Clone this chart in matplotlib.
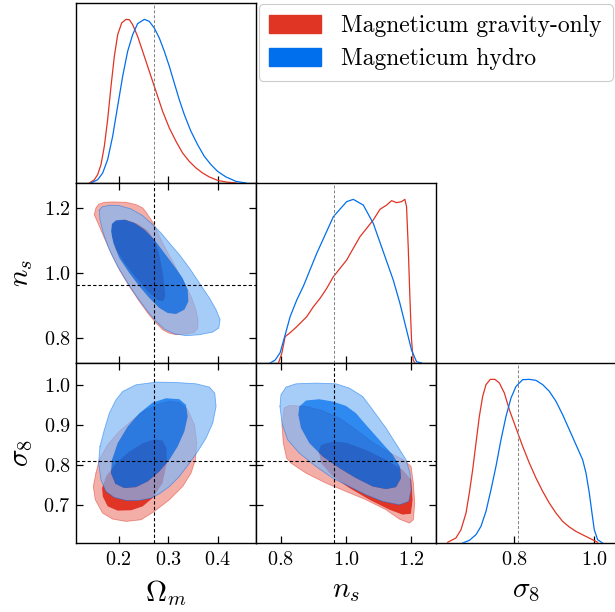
import numpy as np
import matplotlib
matplotlib.use('Agg')
import matplotlib.pyplot as plt
from matplotlib.path import Path
from matplotlib.patches import PathPatch, Patch

plt.rcParams['font.family'] = 'cmr10'
plt.rcParams['mathtext.fontset'] = 'cm'
plt.rcParams['axes.formatter.use_mathtext'] = True

# ---------------------------------------------------------------------------
# data
# ---------------------------------------------------------------------------
names = ['Magneticum gravity-only', 'Magneticum hydro']
labels = [r'$\Omega_m$', r'$n_s$', r'$\sigma_8$']
fiducial = [0.272, 0.963, 0.809]
ranges = [(0.114, 0.477), (0.724, 1.276), (0.604, 1.055)]
ticks = [[0.2, 0.3, 0.4], [0.8, 1.0, 1.2], [0.7, 0.8, 0.9, 1.0]]
xticks_last = [0.8, 1.0]

# 1D marginals (normalised to peak = 1)
om_x_red = [0.1409, 0.1510, 0.1577, 0.1644, 0.1711, 0.1778, 0.1846, 0.1913, 0.1980, 0.2061, 0.2148,
            0.2215, 0.2282, 0.2383, 0.2484, 0.2585, 0.2686, 0.2786, 0.2887, 0.3022, 0.3156, 0.3290,
            0.3425, 0.3559, 0.3694, 0.3828, 0.3996, 0.4164, 0.4366]
om_y_red = [0, 0.020, 0.051, 0.112, 0.224, 0.387, 0.591, 0.774, 0.906, 0.978, 1.0,
            0.998, 0.968, 0.896, 0.805, 0.713, 0.621, 0.530, 0.438, 0.336, 0.255, 0.183,
            0.132, 0.092, 0.061, 0.037, 0.016, 0.006, 0]
om_x_blue = [0.1442, 0.1577, 0.1678, 0.1778, 0.1879, 0.1980, 0.2081, 0.2182, 0.2282, 0.2383, 0.2518,
             0.2618, 0.2719, 0.2820, 0.2921, 0.3022, 0.3122, 0.3223, 0.3324, 0.3458, 0.3593, 0.3727,
             0.3862, 0.3996, 0.4164, 0.4366, 0.4567]
om_y_blue = [0, 0.020, 0.061, 0.143, 0.285, 0.469, 0.652, 0.805, 0.906, 0.974, 1.0,
             0.988, 0.947, 0.886, 0.805, 0.713, 0.611, 0.509, 0.418, 0.316, 0.234, 0.163,
             0.112, 0.071, 0.037, 0.010, 0]

ns_x_red = [0.7929, 0.8031, 0.8133, 0.8286, 0.8490, 0.8796, 0.9000, 0.9204, 0.9408, 0.9612, 0.9816,
            1.0020, 1.0224, 1.0429, 1.0633, 1.0837, 1.1041, 1.1245, 1.1398, 1.1551, 1.1704, 1.1806,
            1.1857, 1.1908, 1.1959, 1.2010, 1.2061, 1.2112]
ns_y_red = [0, 0.059, 0.161, 0.185, 0.222, 0.283, 0.344, 0.395, 0.456, 0.527, 0.578,
            0.629, 0.701, 0.772, 0.823, 0.874, 0.939, 0.965, 0.992, 0.980, 0.986, 1.0,
            0.955, 0.711, 0.405, 0.141, 0.018, 0]
ns_x_blue = [0.7673, 0.7827, 0.7980, 0.8133, 0.8286, 0.8490, 0.8694, 0.9102, 0.9612, 1.0020, 1.0224,
             1.0531, 1.0837, 1.1143, 1.1449, 1.1653, 1.1857, 1.2010, 1.2163, 1.2316]
ns_y_blue = [0, 0.018, 0.063, 0.171, 0.283, 0.385, 0.47, 0.67, 0.894, 0.986, 1.0,
             0.965, 0.853, 0.68, 0.507, 0.365, 0.202, 0.079, 0.008, 0]

s8_x_red = [0.6332, 0.6541, 0.6666, 0.6792, 0.6875, 0.6959, 0.7042, 0.7126, 0.7209, 0.7293, 0.7401,
            0.7518, 0.7627, 0.7752, 0.7877, 0.8044, 0.8211, 0.8378, 0.8545, 0.8712, 0.8879, 0.9046,
            0.9213, 0.9380, 0.9547, 0.9756, 0.9965, 1.0090]
s8_y_red = [0.004, 0.031, 0.081, 0.183, 0.306, 0.448, 0.611, 0.774, 0.896, 0.968, 1.0,
            1.0, 0.978, 0.917, 0.815, 0.703, 0.591, 0.489, 0.397, 0.316, 0.244, 0.183,
            0.132, 0.098, 0.071, 0.045, 0.020, 0.004]
s8_x_blue = [0.6708, 0.6875, 0.7042, 0.7167, 0.7293, 0.7418, 0.7543, 0.7668, 0.7794, 0.7919, 0.8044,
             0.8211, 0.8378, 0.8545, 0.8712, 0.8879, 0.9046, 0.9213, 0.9380, 0.9547, 0.9714, 0.9798,
             0.9881, 0.9948, 1.0006, 1.0090, 1.0215]
s8_y_blue = [0, 0.016, 0.051, 0.102, 0.194, 0.326, 0.469, 0.631, 0.774, 0.886, 0.957,
             0.998, 1.0, 0.994, 0.968, 0.927, 0.866, 0.784, 0.693, 0.601, 0.509, 0.428,
             0.306, 0.183, 0.081, 0.020, 0]

# 2D contours (68% inner, 95% outer) : Omega_m vs n_s
om_ns_red_95 = ([0.1509, 0.1542, 0.1596, 0.1711, 0.1879, 0.2148, 0.2350, 0.2485, 0.2565, 0.2653, 0.2734,
                 0.2821, 0.2956, 0.3090, 0.3225, 0.3359, 0.3460, 0.3548, 0.3602, 0.3595, 0.3528, 0.3359,
                 0.3158, 0.3010, 0.2888, 0.2754, 0.2586, 0.2417, 0.2215, 0.2013, 0.1845, 0.1711, 0.1596,
                 0.1522],
                [1.1790, 1.1995, 1.2107, 1.2169, 1.2179, 1.2169, 1.2097, 1.1995, 1.1841, 1.1637, 1.1432,
                 1.1125, 1.0716, 1.0358, 0.9949, 0.9591, 0.9284, 0.8926, 0.8568, 0.8312, 0.8179, 0.8128,
                 0.8107, 0.8159, 0.8261, 0.8466, 0.8772, 0.9130, 0.9591, 1.0102, 1.0614, 1.1074, 1.1483,
                 1.1739])
om_ns_red_68 = ([0.1865, 0.1865, 0.1946, 0.2148, 0.2384, 0.2586, 0.2740, 0.2821, 0.2875, 0.2922, 0.2942,
                 0.2902, 0.2787, 0.2586, 0.2350, 0.2114, 0.1946],
                [1.1125, 1.1483, 1.1606, 1.1637, 1.1514, 1.1309, 1.0972, 1.0563, 1.0153, 0.9693, 0.9284,
                 0.9130, 0.9161, 0.9437, 0.9847, 1.0307, 1.0716])
om_ns_blue_95 = ([0.1610, 0.1664, 0.1812, 0.2013, 0.2249, 0.2485, 0.2686, 0.2855, 0.3023, 0.3225, 0.3427,
                  0.3629, 0.3831, 0.3965, 0.4046, 0.4019, 0.3898, 0.3629, 0.3359, 0.3124, 0.2922, 0.2754,
                  0.2586, 0.2384, 0.2182, 0.1980, 0.1812, 0.1690, 0.1623],
                 [1.1923, 1.2026, 1.2077, 1.2066, 1.1964, 1.1760, 1.1483, 1.1228, 1.0921, 1.0563, 1.0153,
                  0.9693, 0.9233, 0.8875, 0.8568, 0.8312, 0.8189, 0.8107, 0.8077, 0.8138, 0.8281, 0.8517,
                  0.8824, 0.9233, 0.9693, 1.0205, 1.0716, 1.1228, 1.1637])
om_ns_blue_68 = ([0.1845, 0.1865, 0.1946, 0.2114, 0.2316, 0.2518, 0.2720, 0.2922, 0.3124, 0.3292, 0.3393,
                  0.3407, 0.3326, 0.3158, 0.2989, 0.2821, 0.2619, 0.2417, 0.2215, 0.2013, 0.1892],
                 [1.1279, 1.1514, 1.1616, 1.1637, 1.1535, 1.1330, 1.1023, 1.0614, 1.0205, 0.9847, 0.9488,
                  0.9130, 0.8875, 0.8742, 0.8772, 0.8926, 0.9233, 0.9591, 1.0, 1.0460, 1.0921])

# Omega_m vs sigma_8
om_s8_red_95 = ([0.1542, 0.1489, 0.1529, 0.1677, 0.1879, 0.2148, 0.2451, 0.2720, 0.3023, 0.3292, 0.3460,
                 0.3548, 0.3575, 0.3528, 0.3393, 0.3225, 0.3023, 0.2821, 0.2552, 0.2283, 0.2013, 0.1778,
                 0.1610],
                [0.7791, 0.7457, 0.7123, 0.6789, 0.6639, 0.6581, 0.6622, 0.6831, 0.7123, 0.7457, 0.7791,
                 0.8125, 0.8543, 0.9002, 0.9378, 0.9561, 0.9587, 0.9528, 0.9378, 0.9127, 0.8835, 0.8501,
                 0.8125])
om_s8_red_68 = ([0.1664, 0.1677, 0.1778, 0.1980, 0.2249, 0.2485, 0.2686, 0.2888, 0.2976, 0.2969, 0.2888,
                 0.2720, 0.2485, 0.2215, 0.1946, 0.1744],
                [0.7416, 0.7207, 0.6956, 0.6848, 0.6856, 0.6956, 0.7165, 0.7541, 0.8042, 0.8418, 0.8610,
                 0.8643, 0.8543, 0.8334, 0.8042, 0.7708])
om_s8_blue_95 = ([0.1623, 0.1711, 0.1812, 0.1946, 0.2081, 0.2350, 0.2754, 0.3158, 0.3561, 0.3831, 0.3938,
                  0.3965, 0.3898, 0.3763, 0.3595, 0.3427, 0.3225, 0.3023, 0.2821, 0.2653, 0.2417, 0.2148,
                  0.1913, 0.1744, 0.1643, 0.1596],
                 [0.8459, 0.8877, 0.9294, 0.9628, 0.9837, 1.0004, 1.0071, 1.0062, 1.0029, 0.9946, 0.9795,
                  0.9461, 0.9044, 0.8668, 0.8334, 0.8042, 0.7708, 0.7457, 0.7274, 0.7165, 0.7107, 0.7107,
                  0.7182, 0.7332, 0.7624, 0.8042])
om_s8_blue_68 = ([0.2956, 0.3225, 0.3359, 0.3393, 0.3326, 0.3191, 0.3023, 0.2821, 0.2586, 0.2350, 0.2114,
                  0.1933, 0.1845, 0.1865, 0.1980, 0.2182, 0.2417, 0.2686],
                 [0.9670, 0.9645, 0.9503, 0.9211, 0.8835, 0.8459, 0.8125, 0.7833, 0.7583, 0.7441, 0.7416,
                  0.7524, 0.7791, 0.8125, 0.8543, 0.8960, 0.9294, 0.9561])

# n_s vs sigma_8
ns_s8_red_95 = ([0.8107, 0.8036, 0.8077, 0.8179, 0.8312, 0.8772, 0.9386, 1.0, 1.0614, 1.1228, 1.1637,
                 1.1944, 1.2066, 1.2107, 1.2066, 1.1995, 1.1790, 1.1330, 1.0818, 1.0307, 0.9795, 0.9284,
                 0.8772, 0.8261],
                [0.9420, 0.9002, 0.8543, 0.8167, 0.8042, 0.7791, 0.7541, 0.7332, 0.7123, 0.6873, 0.6639,
                 0.6539, 0.6622, 0.7040, 0.7541, 0.7958, 0.8109, 0.8309, 0.8559, 0.8877, 0.9169, 0.9353,
                 0.9461, 0.9486])
ns_s8_red_68 = ([0.9161, 0.9233, 0.9591, 1.0, 1.0614, 1.1228, 1.1739, 1.2005, 1.2046, 1.1995, 1.1739,
                 1.1330, 1.0716, 1.0102, 0.9591, 0.9233],
                [0.8334, 0.8501, 0.8585, 0.8559, 0.8376, 0.8125, 0.7875, 0.7624, 0.7123, 0.6773, 0.6748,
                 0.6873, 0.7123, 0.7416, 0.7708, 0.8042])
ns_s8_blue_95 = ([0.7974, 0.8005, 0.8159, 0.8466, 0.9079, 0.9693, 1.0102, 1.0512, 1.0818, 1.1228, 1.1586,
                  1.1841, 1.1964, 1.1995, 1.1923, 1.1637, 1.1125, 1.0614, 1.0102, 0.9591, 0.9079, 0.8568,
                  0.8210, 0.8036],
                 [0.9461, 0.9754, 0.9946, 1.0029, 1.0046, 1.0029, 0.9921, 0.9712, 0.9378, 0.8919, 0.8459,
                  0.8125, 0.7791, 0.7374, 0.7082, 0.6998, 0.7082, 0.7249, 0.7457, 0.7666, 0.7958, 0.8292,
                  0.8626, 0.9044])
ns_s8_blue_68 = ([0.8537, 0.8568, 0.8772, 0.9182, 0.9591, 1.0, 1.0307, 1.0614, 1.1023, 1.1432, 1.1657,
                  1.1688, 1.1535, 1.1228, 1.0818, 1.0307, 0.9795, 0.9284, 0.8875, 0.8619],
                 [0.9253, 0.9461, 0.9612, 0.9645, 0.9587, 0.9478, 0.9294, 0.9002, 0.8626, 0.8251, 0.7958,
                  0.7666, 0.7441, 0.7390, 0.7457, 0.7666, 0.7917, 0.8209, 0.8543, 0.8919])

colors = ['#E03424', '#006FED']
# (pale factor of outer region, alpha of outer region, alpha of inner region)
fill_style = [(0.6, 1.0, 1.0), (0.5, 0.7, 0.82)]

marg_1d = {0: [(om_x_red, om_y_red), (om_x_blue, om_y_blue)],
           1: [(ns_x_red, ns_y_red), (ns_x_blue, ns_y_blue)],
           2: [(s8_x_red, s8_y_red), (s8_x_blue, s8_y_blue)]}
cont_2d = {(1, 0): [(om_ns_red_95, om_ns_red_68), (om_ns_blue_95, om_ns_blue_68)],
           (2, 0): [(om_s8_red_95, om_s8_red_68), (om_s8_blue_95, om_s8_blue_68)],
           (2, 1): [(ns_s8_red_95, ns_s8_red_68), (ns_s8_blue_95, ns_s8_blue_68)]}


def pale(c, f=0.6):
    rgb = np.array(matplotlib.colors.to_rgb(c))
    return tuple(rgb * (1 - f) + f)


def area(x, y):
    x = np.asarray(x); y = np.asarray(y)
    return 0.5 * np.sum(x * np.roll(y, -1) - np.roll(x, -1) * y)


def poly_path(x, y, hole=None):
    verts = list(zip(x, y)) + [(x[0], y[0])]
    codes = [Path.MOVETO] + [Path.LINETO] * (len(x) - 1) + [Path.CLOSEPOLY]
    if hole is not None:
        hx, hy = list(hole[0]), list(hole[1])
        if np.sign(area(hx, hy)) == np.sign(area(x, y)):
            hx, hy = hx[::-1], hy[::-1]
        verts += list(zip(hx, hy)) + [(hx[0], hy[0])]
        codes += [Path.MOVETO] + [Path.LINETO] * (len(hx) - 1) + [Path.CLOSEPOLY]
    return Path(verts, codes)


def draw_contours(ax, outer, inner, color, style, z):
    f, a_out, a_in = style
    ax.add_patch(PathPatch(poly_path(outer[0], outer[1], hole=inner), fc=pale(color, f), ec='none',
                           alpha=a_out, zorder=z))
    ax.add_patch(PathPatch(poly_path(inner[0], inner[1]), fc=color, ec='none', alpha=a_in, zorder=z))
    ox = list(outer[0]) + [outer[0][0]]
    oy = list(outer[1]) + [outer[1][0]]
    ax.plot(ox, oy, color=color, lw=0.6, alpha=0.5, zorder=z + 0.5)


fig = plt.figure(figsize=(6.15, 6.12), dpi=100)
W, H = 615.0, 612.0
left, top, size = 76.0, 3.0, 180.0

for i in range(3):
    for j in range(i + 1):
        ax = fig.add_axes([(left + j * size) / W, 1 - (top + (i + 1) * size) / H, size / W, size / H])
        ax.set_xlim(ranges[j])
        for sp in ax.spines.values():
            sp.set_linewidth(1.0)
        if i == j:
            for k, (x, y) in enumerate(marg_1d[i]):
                ax.plot(x, y, color=colors[k], lw=0.9, zorder=3)
            ax.axvline(fiducial[i], color='gray', ls='--', lw=0.7, dashes=(3, 2), zorder=4)
            ax.set_ylim(0, 1.1)
            ax.set_yticks([])
            ax.tick_params(axis='x', direction='in', length=5, width=0.9, top=False)
        else:
            ax.set_ylim(ranges[i])
            for k, (outer, inner) in enumerate(cont_2d[(i, j)]):
                draw_contours(ax, outer, inner, colors[k], fill_style[k], 1 + 2 * k)
            ax.axvline(fiducial[j], color='k', ls='--', lw=0.8, dashes=(3, 2), zorder=6)
            ax.axhline(fiducial[i], color='k', ls='--', lw=0.8, dashes=(3, 2), zorder=6)
            ax.set_yticks(ticks[i])
            ax.tick_params(direction='in', length=5, width=0.9, top=True, right=True)
        ax.set_xticks(xticks_last if j == 2 else ticks[j])
        ax.tick_params(labelsize=14.5)
        ax.tick_params(axis='x', pad=6)
        ax.tick_params(axis='y', pad=4)
        if i == 2:
            ax.set_xlabel(labels[j], fontsize=21, labelpad=6)
        else:
            ax.set_xticklabels([])
        if j == 0 and i > 0:
            ax.set_ylabel(labels[i], fontsize=21, labelpad=6)
        else:
            ax.set_yticklabels([])

handles = [Patch(color=c) for c in colors]
leg = fig.legend(handles, names, loc='upper right', bbox_to_anchor=(1.0, 0.997), fontsize=17,
                 frameon=True, fancybox=True, edgecolor='#cccccc', framealpha=1,
                 handlelength=2.2, handleheight=0.8, handletextpad=0.85, borderpad=0.45,
                 labelspacing=0.45, borderaxespad=0.1)
leg.get_frame().set_linewidth(0.8)

fig.savefig('out.png', dpi=100)
